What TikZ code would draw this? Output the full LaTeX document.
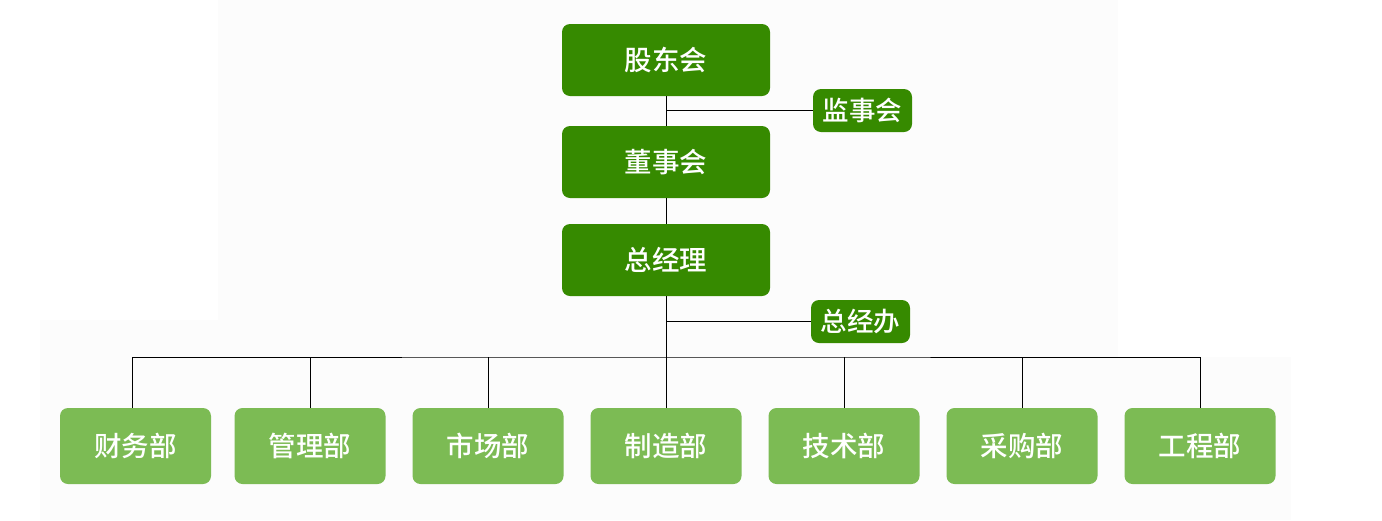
\documentclass[tikz,border=0pt]{standalone}
\usepackage{fontspec}
\newfontfamily\cjk{Noto Sans CJK SC Medium}
\usepackage{tikz}
\usetikzlibrary{positioning,calc}
\definecolor{leadgreen}{RGB}{54,138,0}
\definecolor{deptgreen}{RGB}{124,187,84}
\definecolor{bgfaint}{RGB}{252,252,252}

\begin{document}
\begin{tikzpicture}[x=1pt, y=-1pt,
    link/.style={draw=black, line width=1pt},
    leadbox/.style={rectangle, fill=leadgreen, text=white, rounded corners=8pt,
        minimum width=208pt, minimum height=72pt, inner sep=0pt, font=\cjk\fontsize{27.5}{30}\selectfont},
    sidebox/.style={rectangle, fill=leadgreen, text=white, rounded corners=8pt,
        minimum width=99pt, minimum height=43pt, inner sep=0pt, font=\cjk\fontsize{26.5}{30}\selectfont},
    deptbox/.style={rectangle, fill=deptgreen, text=white, rounded corners=8pt,
        minimum width=151pt, minimum height=76pt, inner sep=0pt, font=\cjk\fontsize{27.5}{30}\selectfont}
]
    \useasboundingbox (0,0) rectangle (1382,520);
    % faint page background
    \fill[bgfaint] (218,0) rectangle (1118,357);
    \fill[bgfaint] (40,320) rectangle (218,357);
    \fill[bgfaint] (40,357) rectangle (1291,520);

    \node[leadbox] (gdh) at (666,60) {股东会};
    \node[leadbox] (dsh) at (666,162) {董事会};
    \node[leadbox] (zjl) at (666,260) {总经理};
    \node[sidebox] (jsh) at (862.5,110.5) {监事会};
    \node[sidebox] (zjb) at (860.5,321.5) {总经办};

    \node[deptbox] (cwb) at (135.5,446) {财务部};
    \node[deptbox] (glb) at (310,446) {管理部};
    \node[deptbox] (scb) at (488,446) {市场部};
    \node[deptbox] (zzb) at (666,446) {制造部};
    \node[deptbox] (jsb) at (844,446) {技术部};
    \node[deptbox] (cgb) at (1022,446) {采购部};
    \node[deptbox] (gcb) at (1200,446) {工程部};
    \coordinate (bus) at (666,357);

    \draw[link] (gdh) -- (dsh);
    \draw[link] (dsh) -- (zjl);
    \draw[link] (zjl) -- (zzb);
    \draw[link] (jsh.west) -- (jsh.west -| gdh.south);
    \draw[link] (zjb.west) -- (zjb.west -| zjl.south);

    \draw[link] ([xshift=-3.5pt]cwb.north) |- (bus) -| (gcb.north);
    \draw[link] (glb.north) -- (glb.north |- bus);
    \draw[link] (scb.north) -- (scb.north |- bus);
    \draw[link] (jsb.north) -- (jsb.north |- bus);
    \draw[link] (cgb.north) -- (cgb.north |- bus);
\end{tikzpicture}
\end{document}
